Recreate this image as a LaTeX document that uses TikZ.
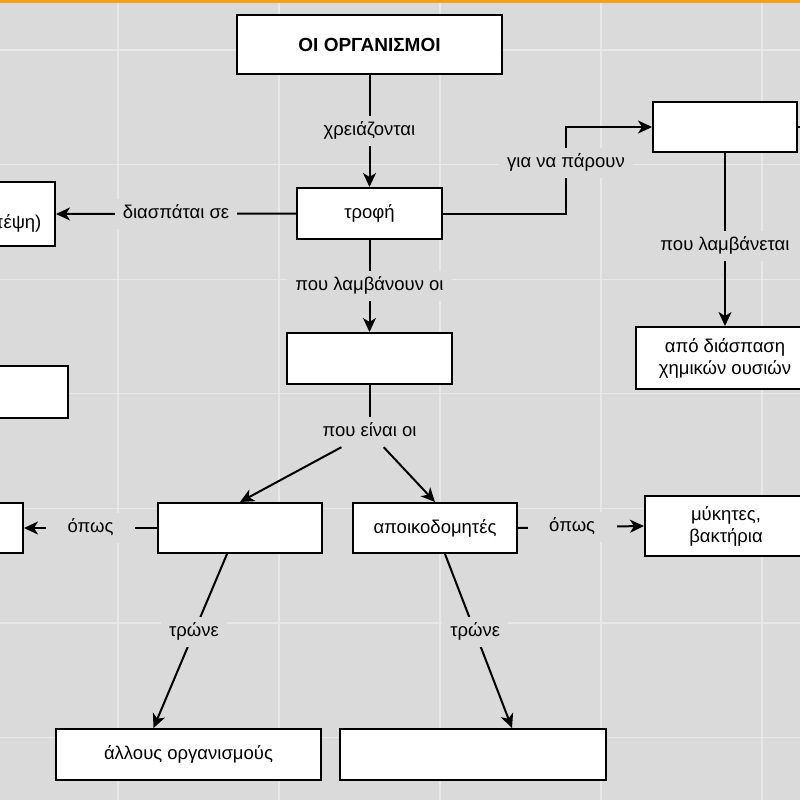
\documentclass[tikz,border=0pt]{standalone}
\usepackage{fontspec}
\setmainfont{Liberation Sans}
\usetikzlibrary{arrows.meta}
\definecolor{bggray}{HTML}{DADADA}
\definecolor{gridline}{HTML}{E8E8E8}
\definecolor{topbar}{HTML}{F5A01A}

\begin{document}
\begin{tikzpicture}[x=1pt,y=-1pt,
		box/.style={draw=black,line width=2pt,fill=white,inner sep=0pt,align=center,font=\fontsize{18.5}{22}\selectfont},
		lbl/.style={fill=bggray,inner xsep=8pt,inner ysep=6.5pt,text height=13pt,text depth=4pt,font=\fontsize{18.5}{22}\selectfont},
		arr/.style={line width=2pt,-{Stealth[length=14pt,width=13pt,inset=4pt]}},
		link/.style={line width=2pt}]
		\clip (0,0) rectangle (800,800);
		\fill[bggray] (0,0) rectangle (800,800);
		\foreach \x in {118,279,440,601,762}
			\draw[gridline,line width=1.2pt] (\x,0) -- (\x,800);
		\foreach \y in {50,164.6,279.2,393.8,508.4,623,737.6}
			\draw[gridline,line width=1.2pt] (0,\y) -- (800,\y);
		\fill[topbar] (0,0) rectangle (800,3);
		% boxes
		\node[box,minimum width=265pt,minimum height=59pt,font=\bfseries\fontsize{19}{22}\selectfont] (org) at (369.5,44.5) {ΟΙ ΟΡΓΑΝΙΣΜΟΙ};
		\node[box,minimum width=145pt,minimum height=51pt] (trophi) at (369.5,213.5) {τροφή};
		\node[box,minimum width=144pt,minimum height=50pt] (get) at (725,127) {};
		\node[box,minimum width=178pt,minimum height=62pt] (apo) at (725,358) {από διάσπαση\\χημικών ουσιών};
		\node[box,minimum width=200pt,minimum height=64pt] (simple) at (-45,214) {};
		\node[font=\fontsize{18.5}{22}\selectfont] (simpletxt) at (13,223) {(πέψη)};
		\node[box,minimum width=165pt,minimum height=51pt] (mid) at (369.5,358.5) {};
		\node[box,minimum width=200pt,minimum height=52pt] (leftbox) at (-32,392) {};
		\node[box,minimum width=164pt,minimum height=50pt] (cons) at (240,528) {};
		\node[box,minimum width=164pt,minimum height=50pt] (decomp) at (435,528) {αποικοδομητές};
		\node[box,minimum width=200pt,minimum height=50pt] (farleft) at (-77,528) {};
		\node[box,minimum width=162pt,minimum height=60pt] (fungi) at (726,526) {μύκητες,\\βακτήρια};
		\node[box,minimum width=265pt,minimum height=51pt] (allous) at (188.5,754.5) {άλλους οργανισμούς};
		\node[box,minimum width=266pt,minimum height=51pt] (botr) at (473,754.5) {};
		\node[lbl] (eina) at (369.5,432) {που είναι οι};
		\coordinate (offr) at (840,127);
		% connectors
		\draw[arr] (org) -- node[lbl]{χρειάζονται} (trophi);
		\draw[arr] (trophi.west) -- node[lbl]{διασπάται σε} (simple.east);
		\draw[arr] (trophi.east) -- ++(123,0) |- node[lbl,pos=0.29]{για να πάρουν} (get.west);
		\draw[link] (get.east) -- (offr);
		\draw[arr] (get) -- node[lbl,pos=0.54]{που λαμβάνεται} (apo);
		\draw[arr] (trophi) -- node[lbl]{που λαμβάνουν οι} (mid);
		\draw[link] (mid) -- (eina);
		\draw[arr] (eina) -- (cons.north);
		\draw[arr] (eina) -- (decomp.north);
		\draw[arr] (cons.west) -- node[lbl,minimum width=89pt]{όπως} (farleft.east);
		\draw[arr] (decomp.east) -- node[lbl,pos=0.43,minimum width=89pt]{όπως} (fungi.west);
		\draw[arr] ([xshift=-13pt]cons.south) -- node[lbl,pos=0.45]{τρώνε} ([xshift=-35pt]allous.north);
		\draw[arr] ([xshift=10pt]decomp.south) -- node[lbl,pos=0.45]{τρώνε} ([xshift=39pt]botr.north);
	\end{tikzpicture}
\end{document}
